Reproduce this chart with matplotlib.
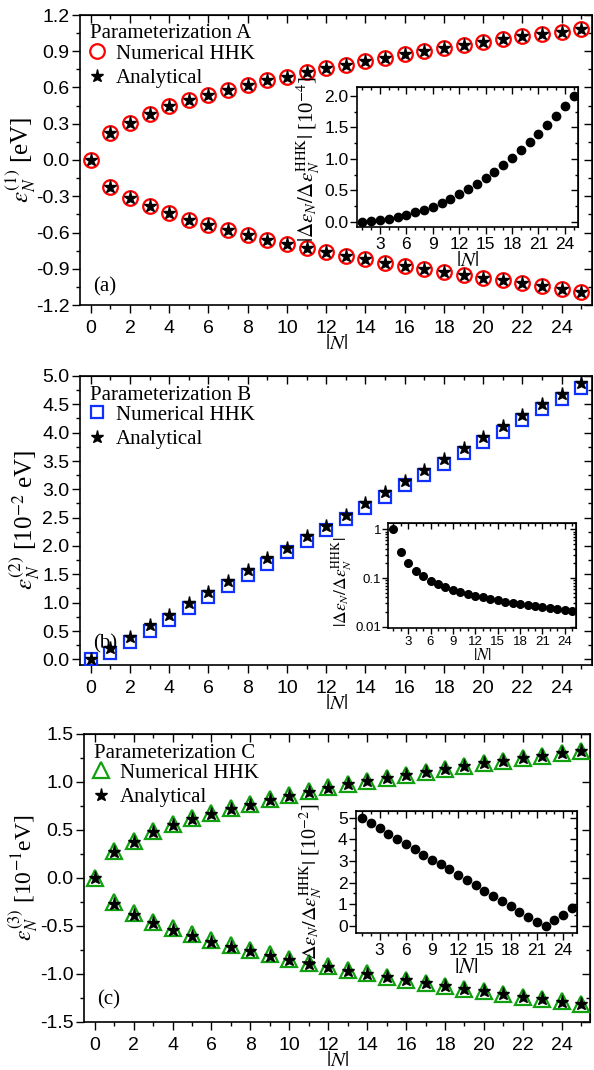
import matplotlib
matplotlib.use("Agg")
import matplotlib.pyplot as plt
from matplotlib.ticker import MultipleLocator, LogLocator, NullFormatter, FormatStrFormatter

plt.rcParams['font.family'] = ['Liberation Sans', 'DejaVu Sans']
plt.rcParams['mathtext.fontset'] = 'stix'

N = list(range(0, 26))
N_in = list(range(1, 26))

# panel (a), parameterization A, eV
a_num_up = [0.0, 0.223, 0.306, 0.38, 0.443, 0.498, 0.54, 0.58, 0.622, 0.658, 0.69, 0.729, 0.76,
            0.79, 0.82, 0.848, 0.875, 0.90, 0.925, 0.95, 0.975, 1.0, 1.024, 1.043, 1.063, 1.085]
a_num_dn = [0.0, -0.223, -0.314, -0.383, -0.438, -0.493, -0.537, -0.581, -0.622, -0.658, -0.694,
            -0.727, -0.76, -0.793, -0.823, -0.85, -0.875, -0.9, -0.928, -0.95, -0.975, -0.996,
            -1.02, -1.043, -1.065, -1.09]
a_ana_up = a_num_up
a_ana_dn = a_num_dn
a_inset = [0.005, 0.01, 0.025, 0.05, 0.075, 0.11, 0.15, 0.19, 0.245, 0.30, 0.36, 0.44, 0.52,
           0.60, 0.70, 0.79, 0.91, 1.02, 1.14, 1.26, 1.39, 1.53, 1.68, 1.84, 2.00]

# panel (b), parameterization B, 10^-2 eV
b_num = [0.0, 0.105, 0.31, 0.50, 0.70, 0.91, 1.10, 1.30, 1.49, 1.69, 1.89, 2.08, 2.29, 2.48,
         2.67, 2.87, 3.07, 3.25, 3.45, 3.64, 3.83, 4.02, 4.22, 4.41, 4.60, 4.78]
b_ana = [0.0, 0.20, 0.40, 0.60, 0.79, 0.99, 1.19, 1.39, 1.58, 1.78, 1.97, 2.17, 2.36, 2.55,
         2.75, 2.95, 3.14, 3.34, 3.53, 3.73, 3.92, 4.12, 4.31, 4.51, 4.69, 4.88]
b_inset = [1.0, 0.337, 0.20, 0.14, 0.108, 0.088, 0.075, 0.065, 0.0575, 0.052, 0.0476, 0.0434,
           0.040, 0.037, 0.0348, 0.0326, 0.0306, 0.0288, 0.0275, 0.0262, 0.025, 0.0238, 0.0228,
           0.0218, 0.0207]

# panel (c), parameterization C, 10^-1 eV
c_num_up = [0.0, 0.28, 0.39, 0.485, 0.565, 0.625, 0.68, 0.725, 0.77, 0.82, 0.863, 0.905, 0.943,
            0.978, 1.013, 1.045, 1.076, 1.104, 1.135, 1.166, 1.195, 1.222, 1.25, 1.275, 1.30, 1.324]
c_num_dn = [0.0, -0.255, -0.367, -0.454, -0.524, -0.587, -0.65, -0.702, -0.747, -0.796, -0.842,
            -0.884, -0.919, -0.957, -0.992, -1.027, -1.058, -1.093, -1.121, -1.153, -1.18,
            -1.208, -1.236, -1.261, -1.285, -1.313]
c_ana_up = [0.0, 0.27, 0.38, 0.475, 0.555, 0.615, 0.67, 0.72, 0.765, 0.815, 0.858, 0.90, 0.94,
            0.975, 1.01, 1.043, 1.074, 1.102, 1.133, 1.164, 1.193, 1.221, 1.249, 1.274, 1.299, 1.323]
c_ana_dn = [0.0, -0.268, -0.382, -0.47, -0.54, -0.603, -0.665, -0.717, -0.762, -0.81, -0.855,
            -0.895, -0.93, -0.966, -1.0, -1.034, -1.064, -1.098, -1.125, -1.156, -1.182,
            -1.209, -1.236, -1.262, -1.287, -1.316]
c_inset = [5.0, 4.75, 4.51, 4.26, 4.02, 3.77, 3.53, 3.28, 3.05, 2.84, 2.61, 2.36, 2.12, 1.88,
           1.63, 1.39, 1.14, 0.90, 0.65, 0.40, 0.17, 0.0, 0.25, 0.52, 0.82]

W, H = 594.0, 1070.0
serif = ['Liberation Serif', 'DejaVu Serif']
ratio_lbl = r'$|\Delta\epsilon_N/\Delta\epsilon_N^{\mathrm{HHK}}|$'


def box(l, t, r, b):
    return [l / W, 1 - b / H, (r - l) / W, (b - t) / H]


def style(ax, size, major=6, minor=3, xpad=4.5, ypad=1.5):
    # bottom / left ticks outwards, mirrored ticks on top / right inwards
    ax.tick_params(which='both', direction='out', width=1.0, top=False, right=False)
    ax.tick_params(which='major', length=major, labelsize=size)
    ax.tick_params(which='minor', length=minor)
    ax.tick_params(axis='x', which='major', pad=xpad)
    ax.tick_params(axis='y', which='major', pad=ypad)
    for s in ax.spines.values():
        s.set_linewidth(1.2)
    tx = ax.secondary_xaxis('top')
    tx.set_xticks(ax.get_xticks())
    tx.xaxis.set_minor_locator(ax.xaxis.get_minor_locator())
    tx.tick_params(which='both', direction='in', labeltop=False, width=1.0)
    tx.tick_params(which='major', length=major)
    tx.tick_params(which='minor', length=minor)
    ry = ax.secondary_yaxis('right')
    if ax.get_yscale() == 'log':
        ry.set_yscale('log')
    ry.set_yticks(ax.get_yticks())
    ry.yaxis.set_minor_locator(ax.yaxis.get_minor_locator())
    ry.yaxis.set_minor_formatter(NullFormatter())
    ry.tick_params(which='both', direction='in', labelright=False, width=1.0)
    ry.tick_params(which='major', length=major)
    ry.tick_params(which='minor', length=minor)


fig = plt.figure(figsize=(5.94, 10.70), dpi=100)

panels = [
    dict(pos=(80, 15, 592, 305), up=a_num_up, dn=a_num_dn, aup=a_ana_up, adn=a_ana_dn,
         marker='o', color='#ff0000', ms=10.5, ylim=(-1.2, 1.2), ymaj=0.3, ymin=0.15,
         ylabel=r'$\epsilon_N^{(1)}$ [eV]', ylsize=18, title='Parameterization A', tag='(a)', tagy=18,
         xlim=(-0.55, 25.55), ylx=38),
    dict(pos=(80, 376, 592, 665), up=b_num, dn=None, aup=b_ana, adn=None,
         marker='s', color='#1030ff', ms=9, ylim=(-0.1, 5.0), ymaj=0.5, ymin=0.25,
         ylabel=r'$\epsilon_N^{(2)}$ [10$^{-2}$ eV]', ylsize=18, title='Parameterization B', tag='(b)',
         tagy=21, xlim=(-0.55, 25.55), ylx=42),
    dict(pos=(84, 734, 590, 1022), up=c_num_up, dn=c_num_dn, aup=c_ana_up, adn=c_ana_dn,
         marker='^', color='#10a010', ms=11, ylim=(-1.5, 1.5), ymaj=0.5, ymin=0.25,
         ylabel=r'$\epsilon_N^{(3)}$ [10$^{-1}$eV]', ylsize=17, title='Parameterization C', tag='(c)',
         tagy=22, xlim=(-0.55, 25.45), ylx=40),
]

for p in panels:
    l, t, r, b = p['pos']
    aw, ah = r - l, b - t
    ax = fig.add_axes(box(l, t, r, b))
    ax.set_xlim(*p['xlim'])
    ax.set_ylim(*p['ylim'])
    ax.xaxis.set_major_locator(MultipleLocator(2))
    ax.xaxis.set_minor_locator(MultipleLocator(1))
    ax.yaxis.set_major_locator(MultipleLocator(p['ymaj']))
    ax.yaxis.set_minor_locator(MultipleLocator(p['ymin']))
    ax.yaxis.set_major_formatter(FormatStrFormatter('%.1f'))
    style(ax, 14)
    kw = dict(ls='none', marker=p['marker'], ms=p['ms'], mfc='none', mec=p['color'], mew=1.6)
    ax.plot(N, p['up'], label='Numerical HHK', zorder=3, **kw)
    if p['dn'] is not None:
        ax.plot(N[1:], p['dn'][1:], zorder=3, **kw)
    skw = dict(ls='none', marker='*', ms=9.5, color='k', mec='k')
    ax.plot(N, p['aup'], label='Analytical', zorder=4, **skw)
    if p['adn'] is not None:
        ax.plot(N[1:], p['adn'][1:], zorder=4, **skw)
    ax.text(10 / aw, 1 - 19 / ah, p['title'], transform=ax.transAxes, family=serif,
            fontsize=15, va='center', ha='left')
    ax.legend(loc='upper left', frameon=False, bbox_to_anchor=(7 / aw, 1 - 29 / ah),
              prop={'family': serif, 'size': 15}, handletextpad=0.4, labelspacing=0.25,
              borderaxespad=0, borderpad=0, handlelength=1.0)
    ax.text(13 / aw, p['tagy'] / ah, p['tag'], transform=ax.transAxes, family=serif,
            fontsize=15, va='center')
    ax.set_xlabel(r'$|N|$', fontsize=15, labelpad=-2)
    ax.set_ylabel(p['ylabel'], fontsize=p['ylsize'], family=serif)
    # label x given as pixel position of its right edge
    ax.yaxis.set_label_coords((p['ylx'] - l) / aw, 0.5)

# insets
inA = fig.add_axes(box(357, 87, 578, 227))
inA.plot(N_in, a_inset, 'o', color='k', ms=6)
inA.set_xlim(0.4, 25.5)
inA.set_ylim(-0.08, 2.14)
inA.set_xticks([3, 6, 9, 12, 15, 18, 21, 24])
inA.xaxis.set_minor_locator(MultipleLocator(1))
inA.yaxis.set_major_locator(MultipleLocator(0.5))
inA.yaxis.set_minor_locator(MultipleLocator(0.25))
inA.yaxis.set_major_formatter(FormatStrFormatter('%.1f'))
style(inA, 12.5, 5, 2.5, 2.5, 1)
inA.set_xlabel(r'$|N|$', fontsize=15, labelpad=-1)
inA.set_ylabel(ratio_lbl + r' [10$^{-4}$]', fontsize=15, family=serif)
inA.yaxis.set_label_coords((322 - 357) / 221, 0.49)

inB = fig.add_axes(box(388, 523, 576, 628))
inB.plot(N_in, b_inset, 'o', color='k', ms=5.5)
inB.set_yscale('log')
inB.set_xlim(0.3, 25.5)
inB.set_ylim(0.0094, 1.35)
inB.set_xticks([3, 6, 9, 12, 15, 18, 21, 24])
inB.xaxis.set_minor_locator(MultipleLocator(1))
inB.set_yticks([0.01, 0.1, 1])
inB.set_yticklabels(['0.01', '0.1', '1'])
inB.yaxis.set_minor_locator(LogLocator(subs=range(2, 10)))
inB.yaxis.set_minor_formatter(NullFormatter())
style(inB, 9.5, 4, 2, 2, 1)
inB.set_xlabel(r'$|N|$', fontsize=12, labelpad=-1)
inB.set_ylabel(ratio_lbl, fontsize=12.5)
inB.yaxis.set_label_coords((354 - 388) / 188, 0.44)

inC = fig.add_axes(box(356, 811, 577, 933))
inC.plot(N_in, c_inset, 'o', color='k', ms=6)
inC.set_xlim(0.3, 25.6)
inC.set_ylim(-0.33, 5.3)
inC.set_xticks([3, 6, 9, 12, 15, 18, 21, 24])
inC.xaxis.set_minor_locator(MultipleLocator(1))
inC.yaxis.set_major_locator(MultipleLocator(1))
inC.yaxis.set_minor_locator(MultipleLocator(0.5))
style(inC, 12.5, 5, 2.5, 2.5, 1)
inC.set_xlabel(r'$|N|$', fontsize=16, labelpad=-1)
inC.set_ylabel(ratio_lbl + r' [10$^{-2}$]', fontsize=14.5, family=serif)
inC.yaxis.set_label_coords((325 - 356) / 221, 0.4)

fig.savefig('out.png', dpi=100)
